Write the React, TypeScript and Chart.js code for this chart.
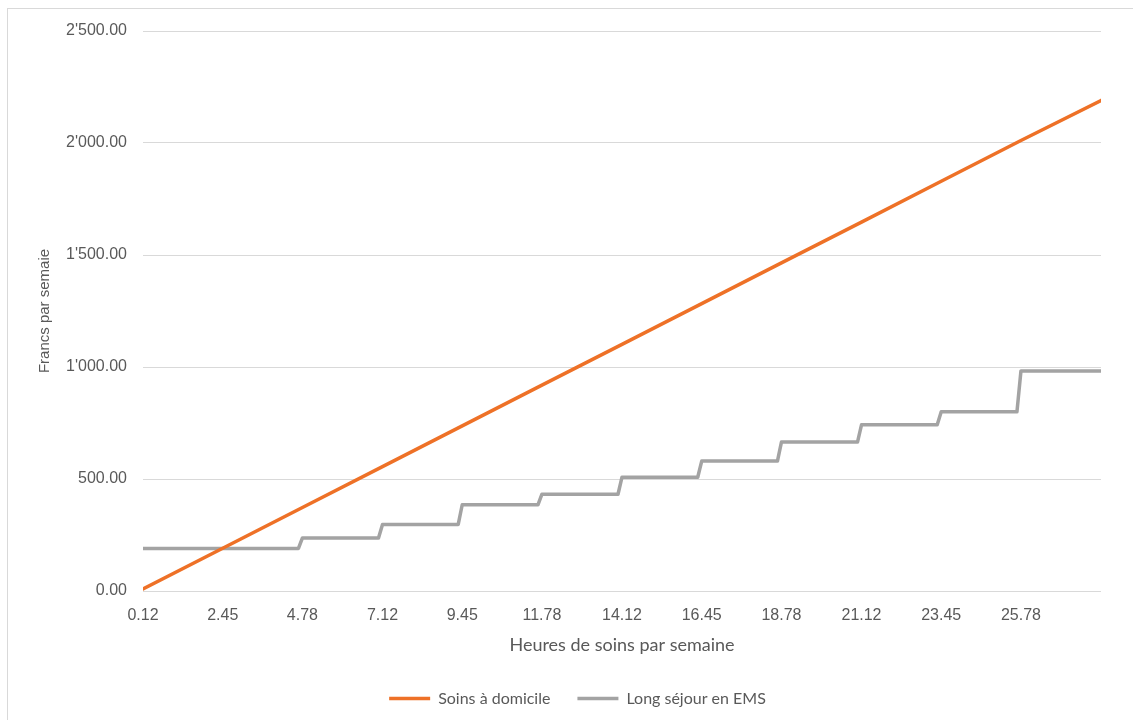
import React, { useEffect, useRef } from "react";
import { Chart, registerables } from "chart.js";

Chart.register(...registerables);

// X axis (hours of care per week)
const xTickHours = [0.12, 2.45, 4.78, 7.12, 9.45, 11.78, 14.12, 16.45, 18.78, 21.12, 23.45, 25.78];
const xTickLabels = ["0.12", "2.45", "4.78", "7.12", "9.45", "11.78", "14.12", "16.45", "18.78", "21.12", "23.45", "25.78"];
const xMin = 0.12;
const xMax = 28.12;
const hourStep = 0.1167; // one category (7 minutes)

// Series 1: Soins à domicile (read at the tick positions + end)
const homeCareHours = [0.12, 2.45, 4.78, 7.12, 9.45, 11.78, 14.12, 16.45, 18.78, 21.12, 23.45, 25.78, 28.12];
const homeCareCost = [9, 191, 373, 555, 737, 919, 1101, 1283, 1465, 1647, 1829, 2011, 2190];

// Series 2: Long séjour en EMS (step levels, each starting at the given hour)
const emsStepHours = [0.12, 4.78, 7.12, 9.45, 11.78, 14.12, 16.45, 18.78, 21.12, 23.45, 25.78];
const emsCost = [190, 237, 297, 385, 432, 508, 580, 665, 742, 800, 982];

const seriesNames = ["Soins à domicile", "Long séjour en EMS"];
const seriesColors = ["#EE7127", "#A3A3A3"];

const formatFrancs = (v: number) => {
  const [int, dec] = Math.abs(v).toFixed(2).split(".");
  const withSep = int.replace(/\B(?=(\d{3})+(?!\d))/g, "'");
  return (v < 0 ? "-" : "") + withSep + "." + dec;
};

export default function App() {
  const canvasRef = useRef<HTMLCanvasElement | null>(null);

  useEffect(() => {
    if (!canvasRef.current) return;

    const homePoints = homeCareHours.map((h, i) => ({ x: h, y: homeCareCost[i] }));
    const emsPoints: { x: number; y: number }[] = [];
    emsStepHours.forEach((h, i) => {
      if (i > 0) emsPoints.push({ x: h - hourStep, y: emsCost[i - 1] });
      emsPoints.push({ x: h, y: emsCost[i] });
    });
    emsPoints.push({ x: xMax, y: emsCost[emsCost.length - 1] });

    const legendShift = {
      id: "legendShift",
      afterLayout(chart: any) {
        if (chart.legend) {
          chart.legend.left += 27;
          chart.legend.right += 27;
        }
      },
    };

    const chart = new Chart(canvasRef.current, {
      type: "line",
      data: {
        datasets: [
          {
            label: seriesNames[0],
            data: homePoints,
            borderColor: seriesColors[0],
            backgroundColor: seriesColors[0],
            borderWidth: 3.5,
            pointRadius: 0,
            borderCapStyle: "round",
            borderJoinStyle: "round",
            tension: 0,
          },
          {
            label: seriesNames[1],
            data: emsPoints,
            borderColor: seriesColors[1],
            backgroundColor: seriesColors[1],
            borderWidth: 3.5,
            pointRadius: 0,
            borderCapStyle: "round",
            borderJoinStyle: "round",
            tension: 0,
          },
        ],
      },
      options: {
        responsive: false,
        animation: false,
        devicePixelRatio: 1,
        layout: { padding: { left: 0, top: 31, right: 32, bottom: 3.5 } },
        plugins: {
          tooltip: { enabled: false },
          legend: {
            position: "bottom",
            labels: {
              font: { family: "Lato", size: 16 },
              color: "#595959",
              usePointStyle: true,
              pointStyle: "line",
              pointStyleWidth: 41,
              padding: 27,
            },
          },
        },
        scales: {
          x: {
            type: "linear",
            min: xMin,
            max: xMax,
            afterBuildTicks: (scale: any) => {
              scale.ticks = xTickHours.map((v) => ({ value: v }));
            },
            afterFit: (scale: any) => {
              scale.height = 72.5;
            },
            ticks: {
              autoSkip: false,
              maxRotation: 0,
              padding: 15,
              font: { family: "Liberation Sans", size: 16 },
              color: "#595959",
              callback: (_v: any, i: number) => xTickLabels[i],
            },
            grid: { display: false, drawTicks: false },
            border: { display: false },
            title: {
              display: true,
              text: "Heures de soins par semaine",
              font: { family: "Lato", size: 18 },
              color: "#595959",
              padding: { top: 0, bottom: 7.7 },
            },
          },
          y: {
            min: 0,
            max: 2500,
            ticks: {
              stepSize: 500,
              padding: 16,
              font: { family: "Liberation Sans", size: 16 },
              color: "#595959",
              callback: (v: any) => formatFrancs(Number(v)),
            },
            afterFit: (scale: any) => {
              scale.width = 143;
            },
            grid: { color: "#D9D9D9", lineWidth: 1, drawTicks: false },
            border: { display: false },
            title: {
              display: true,
              text: "Francs par semaie",
              font: { family: "Liberation Sans", size: 15 },
              color: "#595959",
              padding: { top: 36, bottom: 0 },
            },
          },
        },
      },
      plugins: [legendShift],
    } as any);

    return () => chart.destroy();
  }, []);

  return (
    <div
      style={{
        position: "fixed",
        left: 0,
        top: 0,
        width: 1133,
        height: 720,
        overflow: "hidden",
        background: "#ffffff",
      }}
    >
      <div
        style={{
          position: "absolute",
          left: 7,
          top: 8,
          width: 1200,
          height: 800,
          border: "1px solid #D9D9D9",
        }}
      />
      <canvas
        ref={canvasRef}
        width={1133}
        height={720}
        style={{ position: "absolute", left: 0, top: 0, width: 1133, height: 720 }}
      />
    </div>
  );
}
